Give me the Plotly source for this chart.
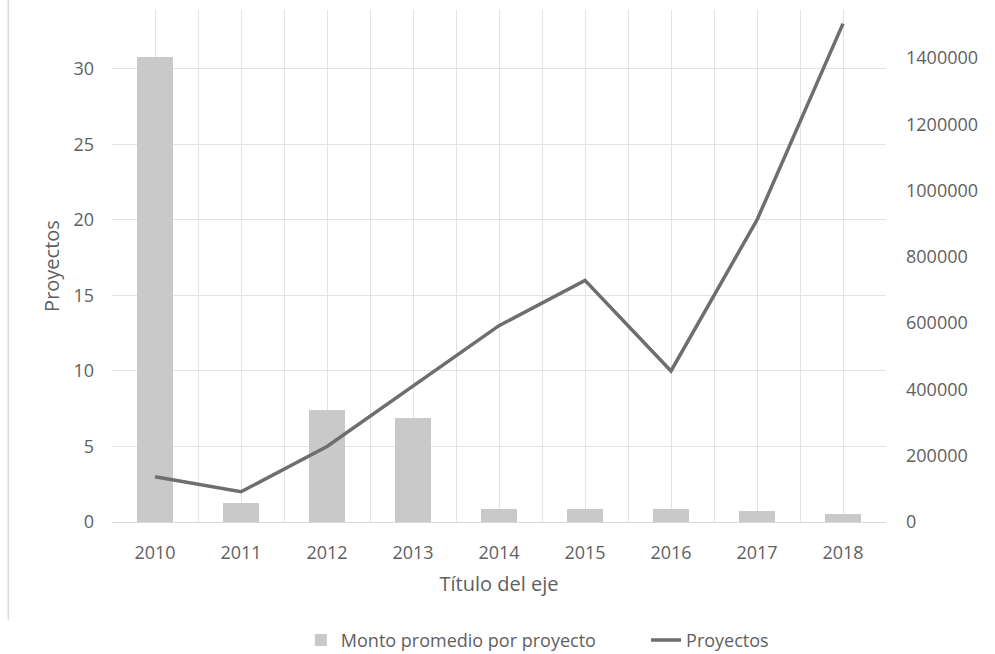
import plotly.graph_objects as go

years = [2010, 2011, 2012, 2013, 2014, 2015, 2016, 2017, 2018]
monto_promedio = [1403000, 56000, 338000, 314000, 39000, 39000, 39000, 33000, 23000]
proyectos = [3, 2, 5, 9, 13, 16, 10, 20, 33]

font_family = "Open Sans, Noto Sans, DejaVu Sans, sans-serif"
txt = "#5f5f5f"
grid = "#e3e3e3"

fig = go.Figure()
fig.add_trace(go.Bar(
    x=years, y=monto_promedio, name="Monto promedio por proyecto",
    marker=dict(color="#c9c9c9", line=dict(width=0)), width=0.42, yaxis="y",
    legend="legend",
))
fig.add_trace(go.Scatter(
    x=years, y=proyectos, name="Proyectos", mode="lines",
    line=dict(color="#6e6e6e", width=3.5), yaxis="y2",
    legend="legend2",
))

leg_common = dict(orientation="h", xanchor="left", y=-0.195, yanchor="top",
                  font=dict(size=18, color=txt), bgcolor="rgba(0,0,0,0)")

fig.update_layout(
    width=995, height=654,
    margin=dict(l=112, r=109, t=10, b=132, autoexpand=False),
    paper_bgcolor="white", plot_bgcolor="white",
    font=dict(family=font_family, size=18, color=txt),
    showlegend=True,
    legend=dict(x=0.244, **leg_common),
    legend2=dict(x=0.690, **leg_common),
    xaxis=dict(
        range=[2009.5, 2018.5], tickmode="array", tickvals=years,
        ticktext=[str(y) for y in years],
        tickfont=dict(size=18),
        showgrid=True, gridcolor=grid, gridwidth=1,
        minor=dict(tickmode="linear", tick0=2009.5, dtick=1, showgrid=True,
                   gridcolor=grid, gridwidth=1, ticks=""),
        showline=True, linecolor="#d9d9d9", linewidth=1,
        ticks="", zeroline=False, ticklabelstandoff=14,
        title=dict(text="Título del eje", standoff=14, font=dict(size=20, color=txt)),
    ),
    yaxis=dict(
        side="right", range=[0, 1545000], dtick=200000, showgrid=False,
        zeroline=False, ticks="", tickformat="d", showline=False,
        tickfont=dict(size=18), ticklabelstandoff=19,
    ),
    yaxis2=dict(
        side="left", overlaying="y", range=[0, 33.9], dtick=5,
        showgrid=True, gridcolor=grid, gridwidth=1, zeroline=False, ticks="",
        tickfont=dict(size=18), ticklabelstandoff=17,
        title=dict(text="Proyectos", standoff=8, font=dict(size=20, color=txt)),
    ),
    bargap=0,
)

fig.add_shape(type="line", xref="paper", yref="paper",
              x0=-0.134, x1=-0.134, y0=1.03, y1=-0.191,
              line=dict(color="#d9d9d9", width=1.5))

fig.write_html("out.html", config={"displayModeBar": False},
               post_script="document.body.style.margin='0';")
